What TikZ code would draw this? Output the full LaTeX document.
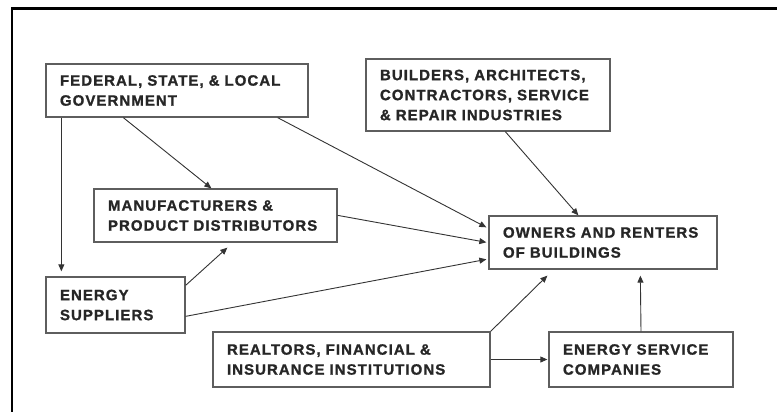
\documentclass[tikz,border=0pt]{standalone}
\usepackage{fontspec}
\setmainfont{Liberation Sans}[LetterSpace=7, FakeBold=1.2]
\usetikzlibrary{arrows.meta, positioning, calc}
\definecolor{border}{HTML}{5E5E5E}
\definecolor{wire}{HTML}{333333}
\definecolor{frame}{HTML}{000000}

\begin{document}
\begin{tikzpicture}[
  x=1pt, y=-1pt,
  actor/.style={
    rectangle, draw=border, line width=1.3pt, inner xsep=14pt, inner ysep=0pt,
    align=left, font=\fontsize{15}{20}\selectfont\bfseries, text=black!85,
  },
  arrow/.style={-{Triangle[length=7pt,width=6pt]}, line width=0.9pt, color=wire},
]
  \useasboundingbox (0,0) rectangle (777,412);
  \draw[frame, line width=2.2pt] (12,412) -- (12,8.5) -- (777,8.5);

  \node[actor, text width=234pt, minimum height=53pt] (gov) at (177,90.5) {FEDERAL, STATE, \& LOCAL\\GOVERNMENT};
  \node[actor, text width=216pt, minimum height=72pt] (build) at (488,95) {BUILDERS, ARCHITECTS,\\CONTRACTORS, SERVICE\\\& REPAIR INDUSTRIES};
  \node[actor, text width=215pt, minimum height=53pt] (maker) at (215.5,215.5) {MANUFACTURERS \&\\PRODUCT DISTRIBUTORS};
  \node[actor, text width=111pt, minimum height=56pt] (supply) at (115.5,305) {ENERGY\\SUPPLIERS};
  \node[actor, text width=249pt, minimum height=55pt] (realty) at (351.5,359.5) {REALTORS, FINANCIAL \&\\INSURANCE INSTITUTIONS};
  \node[actor, text width=200pt, minimum height=53pt] (owners) at (603,242.5) {OWNERS AND RENTERS\\OF BUILDINGS};
  \node[actor, text width=156pt, minimum height=55pt] (esco) at (641,359.5) {ENERGY SERVICE\\COMPANIES};

  \draw[arrow] ([xshift=16pt]gov.south west) -- ([xshift=16pt,yshift=5pt]supply.north west);
  \draw[arrow] ([xshift=78pt]gov.south west) -- ([xshift=118pt]maker.north west);
  \draw[arrow] ([xshift=-31pt]gov.south east) -- ([xshift=-2pt,yshift=-12pt]owners.north west);
  \draw[arrow] ([xshift=140pt]build.south west) -- ([xshift=90pt]owners.north west);
  \draw[arrow] ([yshift=-27pt]maker.north east) -- ([xshift=-2pt,yshift=-27pt]owners.north west);
  \draw[arrow] ([yshift=-9pt]supply.north east) -- ([xshift=134pt,yshift=-5pt]maker.south west);
  \draw[arrow] ([yshift=-40pt]supply.north east) -- ([xshift=-2pt,yshift=-44pt]owners.north west);
  \draw[arrow] (realty.north east) -- ([xshift=59pt,yshift=-6pt]owners.south west);
  \draw[arrow] (realty.east) -- ([xshift=-1pt]esco.west);
  \draw[arrow] (esco.north) -- ([xshift=152pt,yshift=-6pt]owners.south west);
\end{tikzpicture}
\end{document}
